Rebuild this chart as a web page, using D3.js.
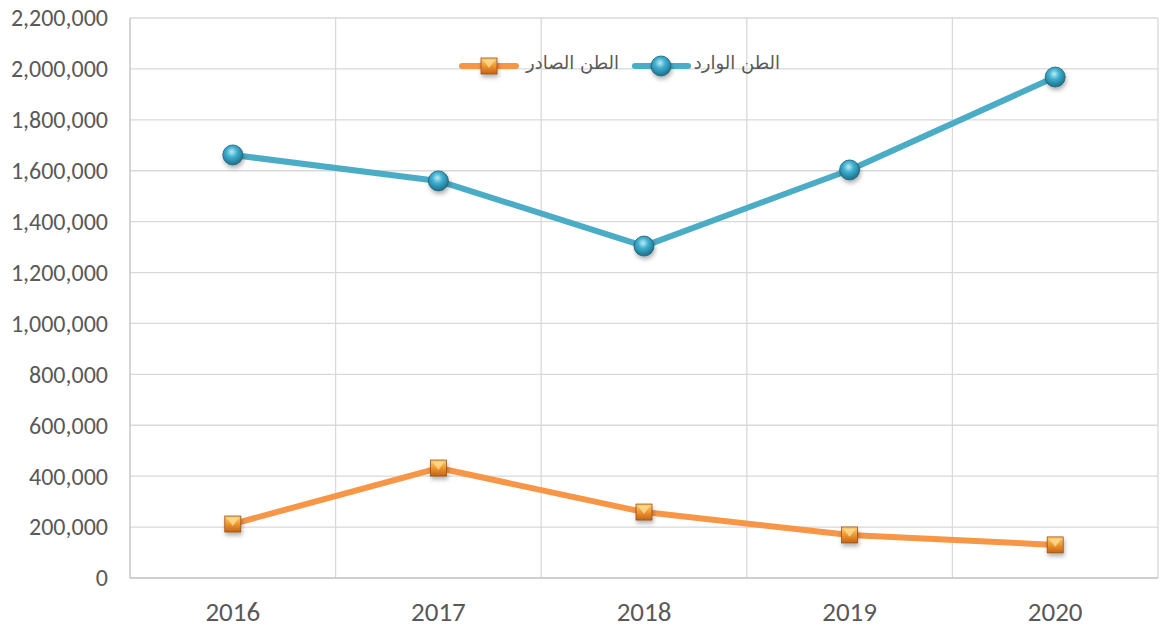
<!DOCTYPE html>
<html>
<head>
<meta charset="utf-8">
<script src="https://cdn.jsdelivr.net/npm/d3@7"></script>
<style>
  body { margin: 0; background: #fff; }
  svg { display: block; font-family: Calibri, Carlito, "Liberation Sans", sans-serif; }
</style>
</head>
<body>
<svg id="chart" width="1163" height="630"></svg>
<script>
const years = ['2016', '2017', '2018', '2019', '2020']
const inbound = [1662000, 1560000, 1304000, 1603000, 1968000]   // الطن الوارد
const outbound = [212000, 432000, 259000, 169000, 130000]       // الطن الصادر
const yTicks = [0, 200000, 400000, 600000, 800000, 1000000, 1200000, 1400000, 1600000, 1800000, 2000000, 2200000]

const svg = d3.select('#chart')
const margin = { left: 130, right: 5, top: 18, bottom: 52 }
const width = 1163, height = 630

const x = d3.scaleBand().domain(years)
  .range([margin.left, width - margin.right])
const y = d3.scaleLinear().domain([0, 2200000])
  .range([height - margin.bottom, margin.top])

const defs = svg.append('defs')
const ball = defs.append('radialGradient').attr('id', 'ball')
  .attr('cx', '45%').attr('cy', '35%').attr('r', '65%')
ball.append('stop').attr('offset', '0%').attr('stop-color', '#bfeaf5')
ball.append('stop').attr('offset', '40%').attr('stop-color', '#3fb0d0')
ball.append('stop').attr('offset', '100%').attr('stop-color', '#1b6f8a')
const box = defs.append('linearGradient').attr('id', 'box')
  .attr('x1', 0).attr('y1', 0).attr('x2', 0).attr('y2', 1)
box.append('stop').attr('offset', '0%').attr('stop-color', '#fcd27a')
box.append('stop').attr('offset', '50%').attr('stop-color', '#f0952e')
box.append('stop').attr('offset', '100%').attr('stop-color', '#c0651a')
const shadow = defs.append('filter').attr('id', 'shadow')
  .attr('x', '-50%').attr('y', '-50%').attr('width', '200%').attr('height', '200%')
shadow.append('feDropShadow').attr('dx', 1).attr('dy', 3)
  .attr('stdDeviation', 2).attr('flood-opacity', 0.3)

// grid
svg.append('g').selectAll('line.h')
  .data(yTicks.slice(1))
  .join('line')
  .attr('x1', margin.left).attr('x2', width - margin.right)
  .attr('y1', d => y(d)).attr('y2', d => y(d))
  .attr('stroke', '#d9d9d9').attr('stroke-width', 1.3)
svg.append('g').selectAll('line.v')
  .data(years.slice(1).concat(['end']))
  .join('line')
  .attr('x1', d => d === 'end' ? width - margin.right : x(d))
  .attr('x2', d => d === 'end' ? width - margin.right : x(d))
  .attr('y1', margin.top).attr('y2', y(0))
  .attr('stroke', '#d9d9d9').attr('stroke-width', 1.3)

// axes
svg.append('line')
  .attr('x1', margin.left).attr('x2', margin.left)
  .attr('y1', margin.top).attr('y2', y(0))
  .attr('stroke', '#bfbfbf').attr('stroke-width', 1.3)
svg.append('line')
  .attr('x1', margin.left).attr('x2', width - margin.right)
  .attr('y1', y(0)).attr('y2', y(0))
  .attr('stroke', '#bfbfbf').attr('stroke-width', 1.3)

svg.append('g').selectAll('text')
  .data(yTicks)
  .join('text')
  .attr('x', 108).attr('y', d => y(d))
  .attr('dy', '0.35em')
  .attr('text-anchor', 'end')
  .attr('font-size', 24).attr('fill', '#595959')
  .text(d3.format(','))

svg.append('g').selectAll('text')
  .data(years)
  .join('text')
  .attr('x', d => x(d) + x.bandwidth() / 2).attr('y', 612)
  .attr('dy', '0.35em')
  .attr('text-anchor', 'middle')
  .attr('font-size', 27).attr('fill', '#595959')
  .text(d => d)

const cx = (d, i) => x(years[i]) + x.bandwidth() / 2
const line = d3.line().x(cx).y(d => y(d))

svg.append('path').datum(outbound)
  .attr('d', line).attr('fill', 'none')
  .attr('stroke', '#f79646').attr('stroke-width', 6).attr('stroke-linejoin', 'round')
svg.append('path').datum(inbound)
  .attr('d', line).attr('fill', 'none')
  .attr('stroke', '#4bacc6').attr('stroke-width', 6).attr('stroke-linejoin', 'round')

function square(g, px, py) {
  g.append('rect')
    .attr('x', px - 8).attr('y', py - 8).attr('width', 16).attr('height', 16)
    .attr('fill', 'url(#box)').attr('stroke', '#9a4f12').attr('stroke-width', 0.8)
    .attr('filter', 'url(#shadow)')
  g.append('path')
    .attr('d', `M${px - 6},${py - 6}L${px + 6},${py - 6}L${px},${py + 2}Z`)
    .attr('fill', '#fde29a').attr('opacity', 0.7)
}
function sphere(g, px, py) {
  g.append('circle')
    .attr('cx', px).attr('cy', py).attr('r', 10)
    .attr('fill', 'url(#ball)').attr('stroke', '#1d5f73').attr('stroke-width', 0.8)
    .attr('filter', 'url(#shadow)')
}

const markers = svg.append('g')
outbound.forEach((d, i) => square(markers, cx(d, i), y(d)))
inbound.forEach((d, i) => sphere(markers, cx(d, i), y(d)))

// legend
const lg = svg.append('g')
lg.append('line').attr('x1', 462).attr('x2', 516).attr('y1', 66).attr('y2', 66)
  .attr('stroke', '#f79646').attr('stroke-width', 6).attr('stroke-linecap', 'round')
square(lg, 489, 66)
lg.append('text').attr('x', 619).attr('y', 63).attr('dy', '0.35em')
  .attr('text-anchor', 'end').attr('font-size', 18).attr('fill', '#595959')
  .attr('font-family', '"DejaVu Sans", sans-serif')
  .text('الطن الصادر')
lg.append('line').attr('x1', 635).attr('x2', 688).attr('y1', 66).attr('y2', 66)
  .attr('stroke', '#4bacc6').attr('stroke-width', 6).attr('stroke-linecap', 'round')
sphere(lg, 661, 66)
lg.append('text').attr('x', 780).attr('y', 63).attr('dy', '0.35em')
  .attr('text-anchor', 'end').attr('font-size', 18).attr('fill', '#595959')
  .attr('font-family', '"DejaVu Sans", sans-serif')
  .text('الطن الوارد')
</script>
</body>
</html>
